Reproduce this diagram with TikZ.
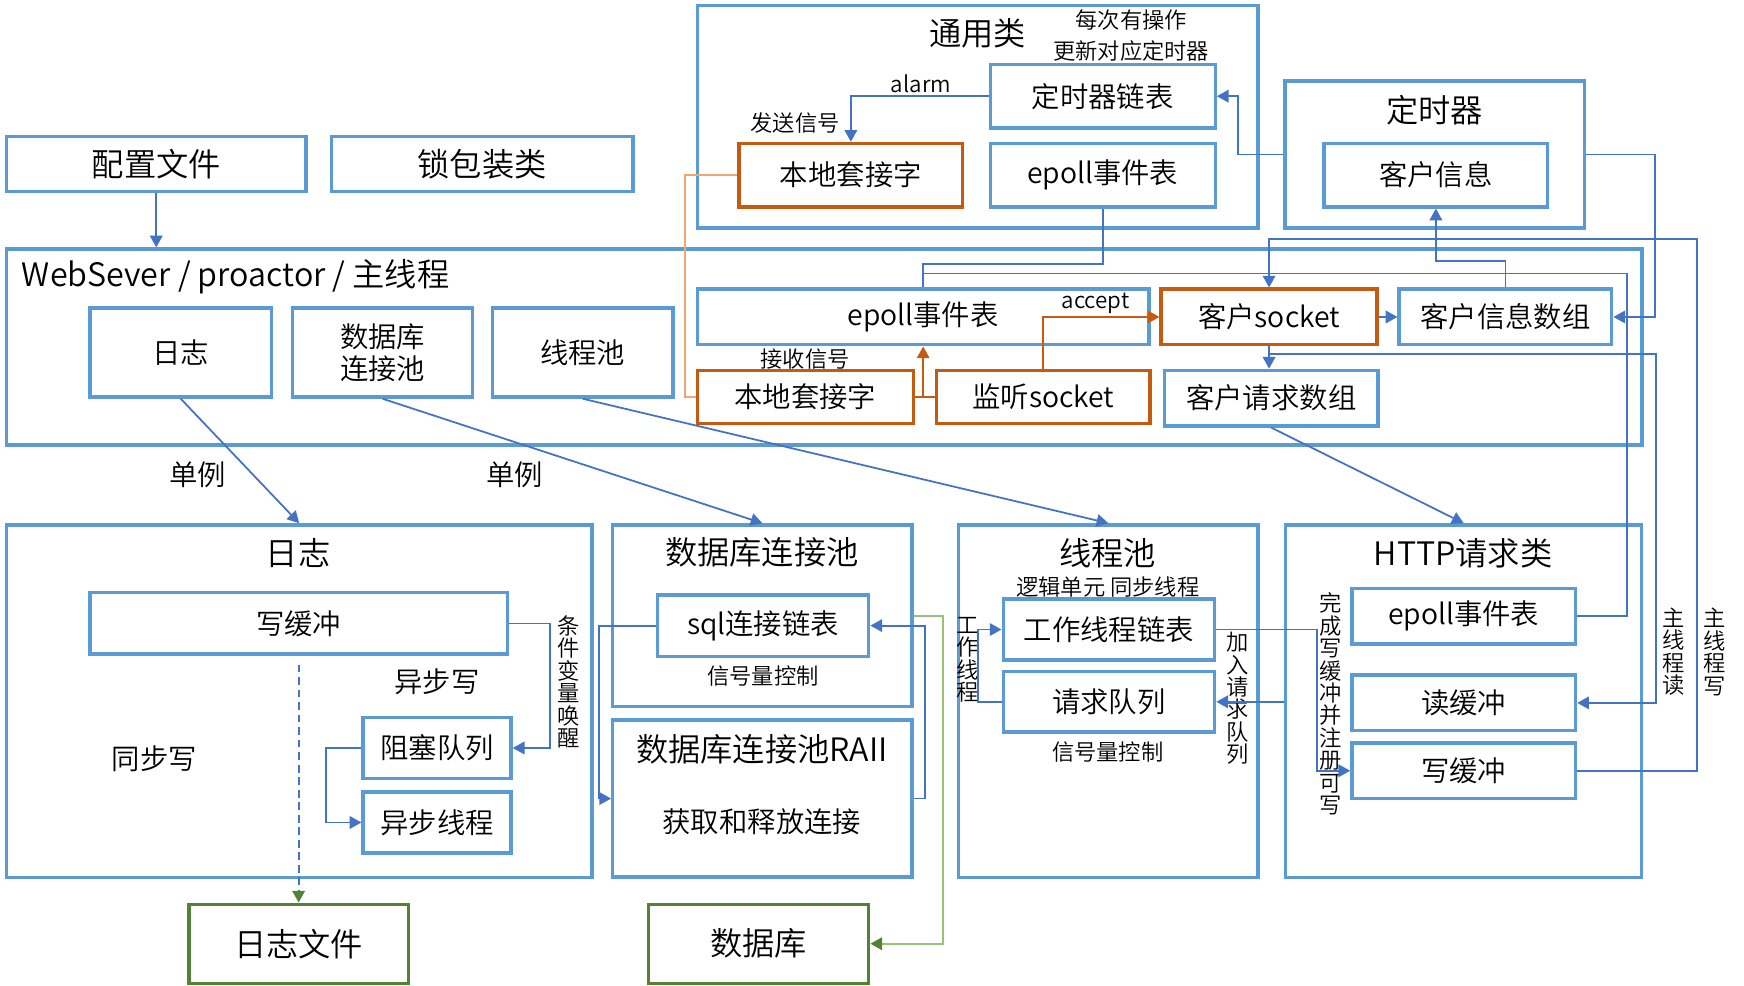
\documentclass[tikz,border=0pt]{standalone}
\usepackage{fontspec}
\setmainfont{Noto Sans CJK SC}[UprightFont={* DemiLight}]
\usetikzlibrary{arrows.meta,calc}
\definecolor{bblue}{RGB}{91,155,213}
\definecolor{lblue}{RGB}{68,114,196}
\definecolor{borange}{RGB}{197,90,17}
\definecolor{lorange}{RGB}{240,165,115}
\definecolor{bgreen}{RGB}{84,130,53}
\definecolor{lgreen}{RGB}{150,195,120}
\newcommand\fontLg{\fontsize{8.25}{9.5}\selectfont}
\newcommand\fontMd{\fontsize{7.25}{8.3}\selectfont}
\newcommand\fontSm{\fontsize{5.7}{7.7}\selectfont}
\newcommand\fontVt{\fontsize{5.7}{5.75}\selectfont}
\tikzset{
  bx/.style={draw=bblue, line width=0.85pt, inner sep=0pt, font=\fontMd, align=center},
  obx/.style={bx, draw=borange},
  gbx/.style={bx, draw=bgreen, font=\fontLg},
  cn/.style={draw=lblue, line width=0.45pt},
  ar/.style={cn, -{Triangle[length=3pt,width=3.2pt]}},
  ocn/.style={draw=lorange, line width=0.5pt},
  dcn/.style={draw=borange, line width=0.5pt},
  oar/.style={dcn, -{Triangle[length=3pt,width=3.2pt]}},
  gar/.style={draw=lgreen, line width=0.5pt, -{Triangle[length=3pt,width=3.2pt,color=bgreen]}},
  dar/.style={draw=lblue, line width=0.45pt, dashed, dash pattern=on 2pt off 1.2pt, -{Triangle[length=3pt,width=3.2pt,color=bgreen]}},
  lbl/.style={inner sep=0pt, font=\fontSm, align=center},
  mlbl/.style={inner sep=0pt, font=\fontMd, align=center},
  tlbl/.style={inner sep=0pt, font=\fontLg, align=center},
  vlbl/.style={inner sep=0pt, font=\fontVt, align=center},
}
\begin{document}
\begin{tikzpicture}[x=0.01cm,y=-0.01cm]
\fill[white] (0,0) rectangle (1568,886);
\useasboundingbox (0,0) rectangle (1568,886);

% ---------- top row ----------
\node[bx, font=\fontLg, minimum width=2.69cm, minimum height=0.49cm] (cfg) at (140.5,147.5) {配置文件};
\node[bx, font=\fontLg, minimum width=2.71cm, minimum height=0.49cm] (lock) at (433.5,147.5) {锁包装类};

% 通用类
\node[bx, minimum width=5.04cm, minimum height=2.00cm] (gen) at (879,105) {};
\node[tlbl] (genT) at (879,30) {通用类};
\node[lbl, font=\fontSm] (noteT) at (1017,32) {每次有操作\\更新对应定时器};
\node[bx, minimum width=2.02cm, minimum height=0.57cm] (timerlist) at (991.5,86.5) {定时器链表};
\node[obx, minimum width=2.01cm, minimum height=0.57cm] (localsockA) at (765,157.5) {本地套接字};
\node[bx, minimum width=2.02cm, minimum height=0.57cm] (epollA) at (991.5,157.5) {epoll事件表};
\node[lbl] (alarmT) at (828,75) {alarm};
\node[lbl] (sendT) at (715,111) {发送信号};

% 定时器
\node[bx, minimum width=2.69cm, minimum height=1.32cm] (timer) at (1290,139) {};
\node[tlbl] (timerT) at (1290,99) {定时器};
\node[bx, minimum width=2.01cm, minimum height=0.57cm] (clientinfo) at (1291,157.5) {客户信息};

% ---------- WebServer ----------
\node[bx, minimum width=14.70cm, minimum height=1.76cm] (ws) at (741,312) {};
\node[tlbl, anchor=west] (wsT) at (19,249) {WebSever / proactor / 主线程};
\node[bx, minimum width=1.63cm, minimum height=0.80cm] (logS) at (162.5,317) {日志};
\node[bx, minimum width=1.62cm, minimum height=0.80cm] (dbS) at (344,317) {数据库\\连接池};
\node[bx, minimum width=1.62cm, minimum height=0.80cm] (tpS) at (524,317) {线程池};
\node[bx, minimum width=4.06cm, minimum height=0.50cm] (epollB) at (830,285) {epoll事件表};
\node[obx, minimum width=1.94cm, minimum height=0.50cm] (clientsock) at (1141,285) {客户socket};
\node[bx, minimum width=1.91cm, minimum height=0.50cm] (clientinfoarr) at (1353.5,285) {客户信息数组};
\node[obx, minimum width=1.94cm, minimum height=0.48cm] (localsockB) at (724,357) {本地套接字};
\node[obx, minimum width=1.92cm, minimum height=0.48cm] (listensock) at (938,357) {监听socket};
\node[bx, minimum width=1.92cm, minimum height=0.50cm] (clientreq) at (1143,358) {客户请求数组};
\node[lbl] (acceptT) at (985,273) {accept};
\node[lbl] (recvT) at (724,323) {接收信号};

% ---------- bottom row ----------
\node[bx, minimum width=5.26cm, minimum height=3.17cm] (logbox) at (269,630.5) {};
\node[tlbl] (logT) at (268,497.5) {日志};
\node[bx, minimum width=3.75cm, minimum height=0.55cm] (logwb) at (268.5,560.5) {写缓冲};
\node[bx, minimum width=1.33cm, minimum height=0.55cm] (blockq) at (393,672.5) {阻塞队列};
\node[bx, minimum width=1.33cm, minimum height=0.55cm] (asyncth) at (393,739.5) {异步线程};
\node[mlbl] (asyncW) at (393,613) {异步写};
\node[mlbl] (syncW) at (138.7,682.6) {同步写};
\node[vlbl] (condT) at (511,613) {条\\件\\变\\量\\唤\\醒};
\node[gbx, minimum width=1.97cm, minimum height=0.71cm] (logfile) at (268.5,848.5) {日志文件};

\node[bx, minimum width=2.69cm, minimum height=1.63cm] (dbbox) at (685.5,553.5) {};
\node[tlbl] (dbT) at (685,497) {数据库连接池};
\node[bx, minimum width=1.90cm, minimum height=0.55cm] (sql) at (686,562.5) {sql连接链表};
\node[lbl] (semA) at (686,607.5) {信号量控制};
\node[bx, minimum width=2.69cm, minimum height=1.41cm] (raii) at (685.5,718) {};
\node[tlbl] (raiiT) at (685,674) {数据库连接池RAII};
\node[mlbl] (getrel) at (685,738.8) {获取和释放连接};
\node[gbx, minimum width=1.98cm, minimum height=0.71cm] (database) at (682,848.5) {数据库};

\node[bx, minimum width=2.69cm, minimum height=3.17cm] (tpbox) at (996.5,630.5) {};
\node[tlbl] (tpT) at (996,497.5) {线程池};
\node[lbl] (logicT) at (996,527.5) {逻辑单元 同步线程};
\node[bx, minimum width=1.90cm, minimum height=0.55cm] (worklist) at (997,566) {工作线程链表};
\node[bx, minimum width=1.90cm, minimum height=0.54cm] (reqq) at (997,631) {请求队列};
\node[lbl] (semB) at (996,676) {信号量控制};
\node[vlbl] (workT) at (870,593) {工\\作\\线\\程};
\node[vlbl] (joinT) at (1113,628) {加\\入\\请\\求\\队\\列};

\node[bx, minimum width=3.20cm, minimum height=3.17cm] (httpbox) at (1316,630.5) {};
\node[tlbl] (httpT) at (1315.5,497.5) {HTTP请求类};
\node[bx, minimum width=2.01cm, minimum height=0.50cm] (httpep) at (1316,554) {epoll事件表};
\node[bx, minimum width=2.01cm, minimum height=0.50cm] (httprb) at (1316,632) {读缓冲};
\node[bx, minimum width=2.01cm, minimum height=0.50cm] (httpwb) at (1316,693) {写缓冲};
\node[vlbl] (doneT) at (1196.5,633) {完\\成\\写\\缓\\冲\\并\\注\\册\\可\\写};
\node[vlbl] (mainR) at (1505,586) {主\\线\\程\\读};
\node[vlbl] (mainW) at (1542,586) {主\\线\\程\\写};

\node[mlbl] (single1) at (178,427) {单例};
\node[mlbl] (single2) at (463,427) {单例};

% ---------- connectors ----------
\draw[ar] (cfg.south) -- (cfg.south |- ws.north);
\draw[ar] (timerlist.west) -| (localsockA.north);
\draw[ar] (timer.west) -- ++(-41,0) |- (timerlist.east);
\draw[ar] (timer.east) -- (1488,139) |- (clientinfoarr.east);
\draw[ar] (clientinfoarr.north) -- ++(0,-24) -| (clientinfo.south);
\draw[ar] (clientsock.east) -- (clientinfoarr.west);
\draw[ar] (httpwb.east) -| (1526,215) -| (clientsock.north);
\draw[ar] (clientsock.south) |- (1489,318) |- (httprb.east);
\draw[ar] (clientsock.south) -- (clientsock.south |- clientreq.north);
\draw[cn] (epollA.south) -- ++(0,50) -| (epollB.north);
\draw[cn] (httpep.east) -| (1463,246) -| (epollB.north);

\draw[ocn] (localsockA.west) -| (616,357) -- (localsockB.west);
\draw[dcn] (localsockB.east) -- (listensock.west);
\draw[oar] (epollB.south |- localsockB.east) -- (epollB.south);
\draw[oar] (listensock.north) |- (clientsock.west);

\draw[ar] (logS.south) -- (logbox.north);
\draw[ar] (dbS.south) -- (dbbox.north);
\draw[ar] (tpS.south) -- (tpbox.north);
\draw[ar] (clientreq.south) -- (httpbox.north);

\draw[ar] (logwb.east) -- ++(37,0) |- (blockq.east);
\draw[ar] (blockq.west) -- ++(-32,0) |- (asyncth.west);
\draw[dar] ($(logwb.south)+(0,8)$) -- (logfile.north);

\draw[ar] (sql.west) -- ++(-51,0) |- (raii.west);
\draw[ar] (raii.east) -- ++(10,0) |- (sql.east);
\draw[gar] (dbbox.east) -- ++(26,0) |- (database.east);

\draw[ar] (reqq.west) -- ++(-21,0) |- (worklist.west);
\draw[ar] (worklist.east) -| ([xshift=-0.3cm]httpwb.west) -- (httpwb.west);
\draw[ar] (httpbox.west |- reqq.east) -- (reqq.east);
\end{tikzpicture}
\end{document}
